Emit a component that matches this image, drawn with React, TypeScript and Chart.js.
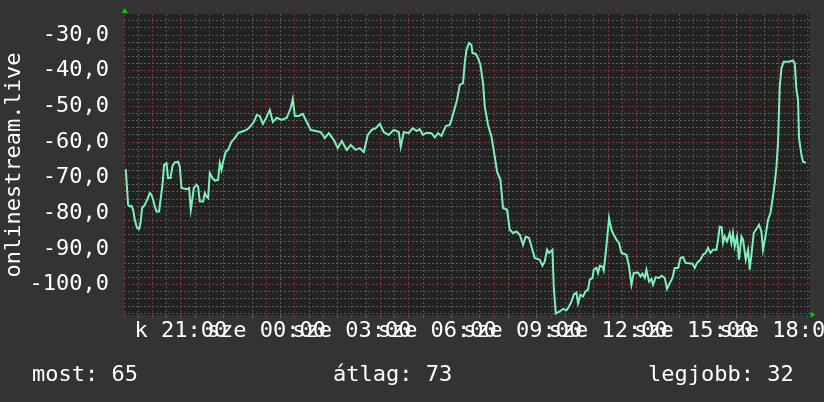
import React, { useEffect, useRef } from 'react';
import { Chart, registerables } from 'chart.js';

Chart.register(...registerables);

// Hours elapsed since Monday 19:00
const hours = [
  0.063, 0.109, 0.144, 0.204, 0.263, 0.320, 0.379, 0.460, 0.530, 0.579,
  0.636, 0.730, 0.811, 0.906, 0.966, 1.022, 1.081, 1.141, 1.232, 1.282,
  1.352, 1.408, 1.492, 1.548, 1.633, 1.703, 1.784, 1.900, 1.960, 2.019,
  2.195, 2.286, 2.346, 2.405, 2.451, 2.546, 2.602, 2.662, 2.778, 2.837,
  2.897, 2.953, 3.013, 3.107, 3.188, 3.304, 3.364, 3.423, 3.480, 3.574,
  3.655, 3.775, 3.890, 4.006, 4.125, 4.301,
  4.417, 4.558, 4.663, 4.769, 4.874, 4.979, 5.119, 5.225, 5.365, 5.541,
  5.716, 5.857, 5.927, 5.997, 6.137, 6.278, 6.418, 6.559, 6.734, 6.910,
  7.050, 7.191, 7.366, 7.507, 7.647, 7.823, 7.963, 8.139, 8.279, 8.420,
  8.560, 8.701, 8.841, 8.982, 9.122, 9.298, 9.473, 9.649, 9.719, 9.824,
  10.000, 10.140, 10.281,
  10.386, 10.502, 10.621, 10.797, 10.913, 11.029, 11.148, 11.299, 11.440, 11.499,
  11.615, 11.695, 11.790, 11.906, 11.966, 12.026, 12.117, 12.201, 12.236, 12.353,
  12.433, 12.518, 12.609, 12.669, 12.785, 12.904, 13.020, 13.101, 13.220, 13.311,
  13.452, 13.546, 13.662, 13.782, 13.898, 14.014, 14.108, 14.224, 14.309, 14.424,
  14.600, 14.695, 14.775, 14.856, 14.926, 15.046, 15.091, 15.162, 15.302, 15.418,
  15.537, 15.628, 15.713, 15.793, 15.888, 15.944, 16.028, 16.120, 16.204, 16.295,
  16.355, 16.450, 16.496, 16.591, 16.647, 16.707, 16.801, 16.847, 16.917, 16.963,
  17.033, 17.117, 17.198, 17.293, 17.384, 17.469, 17.644, 17.736, 17.820, 17.900,
  18.051, 18.136, 18.206, 18.287, 18.346, 18.438, 18.522, 18.578, 18.673, 18.789,
  18.873, 18.989, 19.069, 19.164, 19.259, 19.340, 19.456, 19.540, 19.631, 19.726,
  19.961, 20.042, 20.123, 20.242, 20.333, 20.428, 20.509, 20.593, 20.685, 20.804,
  20.860, 20.920, 20.990, 21.036, 21.096, 21.176, 21.271, 21.331, 21.387, 21.447,
  21.528, 21.598, 21.683, 21.739, 21.834, 21.915, 21.974, 22.034, 22.115, 22.230,
  22.300, 22.385, 22.441, 22.536, 22.617, 22.701, 22.771, 22.852, 22.912, 22.967,
  23.027, 23.087, 23.168, 23.319, 23.495, 23.554, 23.614, 23.670, 23.705, 23.790,
  23.846, 23.940,
];

// Rank values (plotted negated)
const ranks = [
  -67.6, -73.4, -77.6, -78.1, -77.9, -79.0, -81.8, -84.1, -84.4, -82.7,
  -78.5, -77.6, -76.2, -74.3, -74.8, -76.2, -78.1, -79.5, -79.5, -76.2,
  -72.0, -66.4, -65.9, -70.1, -70.1, -66.7, -65.7, -65.5, -66.9, -72.9,
  -73.2, -72.9, -79.0, -75.7, -72.9, -72.0, -72.5, -76.7, -76.7, -74.3,
  -75.3, -75.7, -68.7, -70.1, -70.8, -70.6, -65.9, -67.8, -65.5, -62.7,
  -62.2, -59.9, -58.9, -57.5, -57.1, -56.6,
  -55.8, -54.4, -52.4, -52.7, -54.9, -53.5, -51.0, -54.4, -53.2, -53.8,
  -53.2, -50.4, -47.9, -52.7, -52.7, -52.1, -54.4, -56.6, -56.9, -57.2,
  -58.9, -57.5, -59.4, -61.7, -59.7, -62.2, -60.8, -62.2, -61.7, -62.8,
  -58.0, -56.6, -56.1, -54.9, -57.2, -58.0, -56.6, -57.2, -61.4, -57.2,
  -57.5, -56.1, -56.9,
  -56.4, -58.0, -57.4, -57.5, -58.7, -57.5, -58.3, -55.5, -55.2, -53.8,
  -50.5, -48.2, -44.0, -43.5, -37.9, -34.2, -32.2, -32.8, -35.0, -35.3,
  -36.5, -38.4, -43.5, -50.1, -55.2, -58.5, -64.1, -68.3, -70.6, -78.5,
  -79.0, -84.6, -85.5, -85.1, -86.0, -88.8, -86.5, -86.9, -89.3, -92.5,
  -93.0, -94.7, -93.5, -90.2, -91.1, -90.2, -100.5, -108.1, -107.5, -106.8,
  -107.2, -106.1, -104.7, -102.8, -102.2, -105.2, -102.8, -103.3, -101.9, -101.4,
  -98.6, -98.1, -95.8, -95.3, -96.7, -94.7, -94.9, -96.0, -91.1, -87.4,
  -81.3, -84.6, -86.0, -87.4, -88.3, -91.1, -91.6, -94.9, -100.0, -96.7,
  -96.6, -97.7, -96.9, -98.1, -95.8, -99.1, -98.4, -100.0, -97.9, -98.1,
  -97.5, -98.1, -101.2, -99.6, -98.1, -95.3, -95.3, -92.5, -92.3, -93.9,
  -94.1, -95.3, -93.9, -93.0, -91.6, -91.1, -89.7, -91.1, -90.2, -90.2,
  -87.4, -83.7, -83.9, -88.2, -86.5, -87.9, -85.5, -88.3, -85.5, -89.3,
  -86.5, -93.0, -86.5, -87.4, -93.0, -90.2, -95.8, -91.6, -85.5, -84.1,
  -83.2, -85.1, -90.2, -86.0, -81.8, -79.9, -76.2, -71.5, -66.9, -60.3,
  -44.5, -39.3, -37.5, -37.5, -37.2, -37.9, -45.4, -48.2, -58.9, -63.6,
  -65.5, -65.8,
];

const xTickHours = [2, 5, 8, 11, 14, 17, 20, 23];
const xTickLabels = ['k 21:00', 'sze 00:00', 'sze 03:00', 'sze 06:00', 'sze 09:00', 'sze 12:00', 'sze 15:00', 'sze 18:00'];
const yAxisTitle = 'onlinestream.live';
const legendLabels = ['most', 'átlag', 'legjobb'];
const legendValues = [65, 73, 32];

const FONT = '"DejaVu Sans Mono", monospace';
const FONT_SIZE = 22;
const BG = '#333333';
const PLOT_BG = '#222222';
const GRID_MINOR = '#5c5c5c';
const GRID_MAJOR = '#7e3434';
const LINE = '#7ff0b8';
const ARROW = '#00cc00';
const TEXT = '#ffffff';

const decorPlugin = {
  id: 'decor',
  beforeDraw(chart: any) {
    const { ctx, chartArea: a, width, height } = chart;
    ctx.save();
    ctx.fillStyle = BG;
    ctx.fillRect(0, 0, width, height);
    ctx.fillStyle = PLOT_BG;
    ctx.fillRect(a.left, a.top, a.right - a.left, a.bottom - a.top);
    ctx.restore();
  },
  afterDraw(chart: any) {
    const { ctx, chartArea: a } = chart;
    ctx.save();
    // y-axis title
    ctx.fillStyle = TEXT;
    ctx.font = `${FONT_SIZE}px ${FONT}`;
    ctx.translate(20, (a.top + a.bottom) / 2 + 0.5);
    ctx.rotate(-Math.PI / 2);
    ctx.textAlign = 'center';
    ctx.textBaseline = 'alphabetic';
    ctx.fillText(yAxisTitle, 0, 0);
    ctx.restore();

    // legend line
    ctx.save();
    ctx.fillStyle = TEXT;
    ctx.font = `${FONT_SIZE}px ${FONT}`;
    ctx.textBaseline = 'alphabetic';
    const xs = [32, 333, 648];
    legendLabels.forEach((l, i) => {
      ctx.textAlign = 'left';
      ctx.fillText(`${l}: ${legendValues[i]}`, xs[i], 381);
    });
    ctx.restore();

    // axis arrows
    ctx.save();
    ctx.fillStyle = ARROW;
    const ax = a.left + 0.7;
    ctx.beginPath();
    ctx.moveTo(ax, a.top - 6);
    ctx.lineTo(ax - 3, a.top - 1);
    ctx.lineTo(ax + 3, a.top - 1);
    ctx.closePath();
    ctx.fill();
    const ay = a.bottom - 0.2;
    ctx.beginPath();
    ctx.moveTo(a.right + 5.5, ay);
    ctx.lineTo(a.right + 0.5, ay - 3);
    ctx.lineTo(a.right + 0.5, ay + 3);
    ctx.closePath();
    ctx.fill();
    ctx.restore();
  },
};

export default function App() {
  const ref = useRef<HTMLCanvasElement>(null);
  useEffect(() => {
    document.body.style.margin = '0';
    document.body.style.background = BG;
    const n = Math.min(hours.length, ranks.length);
    const points = [] as { x: number; y: number }[];
    for (let i = 0; i < n; i++) points.push({ x: hours[i], y: ranks[i] });

    const chart = new Chart(ref.current!, {
      type: 'line',
      data: {
        datasets: [
          {
            data: points,
            borderColor: LINE,
            borderWidth: 2,
            pointRadius: 0,
            tension: 0,
            fill: false,
          },
        ],
      },
      options: {
        responsive: false,
        animation: false,
        events: [],
        devicePixelRatio: 1,
        layout: { padding: { left: 0, top: 14, right: 14, bottom: 0 } },
        plugins: { legend: { display: false }, tooltip: { enabled: false } },
        scales: {
          x: {
            type: 'linear',
            min: 0,
            max: 24.09,
            afterFit: (s: any) => {
              s.height = 87;
              s.paddingLeft = 0;
              s.paddingRight = 0;
            },
            ticks: {
              stepSize: 0.5,
              maxTicksLimit: 1000,
              includeBounds: false,
              autoSkip: false,
              maxRotation: 0,
              minRotation: 0,
              padding: 0,
              color: TEXT,
              font: { family: FONT, size: FONT_SIZE },
              callback: (v: any) => {
                const i = xTickHours.indexOf(Number(v));
                return i >= 0 ? xTickLabels[i] : '';
              },
            },
            grid: {
              drawTicks: true,
              tickLength: 3,
              lineWidth: 1,
              color: (c: any) => (Number.isInteger(c.tick?.value) ? GRID_MAJOR : GRID_MINOR),
              tickColor: (c: any) => (Number.isInteger(c.tick?.value) ? GRID_MAJOR : GRID_MINOR),
            },
            border: { display: false, dash: [2, 2] },
          },
          y: {
            type: 'linear',
            min: -108.5,
            max: -24.1,
            afterFit: (s: any) => {
              s.width = 124;
              s.paddingTop = 0;
              s.paddingBottom = 0;
            },
            ticks: {
              stepSize: 2,
              maxTicksLimit: 1000,
              includeBounds: false,
              autoSkip: false,
              padding: 15,
              color: TEXT,
              font: { family: FONT, size: FONT_SIZE },
              callback: (v: any) => {
                const num = Number(v);
                return Math.round(num) % 10 === 0 ? num.toFixed(1).replace('.', ',') : '';
              },
            },
            grid: {
              drawTicks: false,
              lineWidth: 1,
              color: (c: any) => (Math.round(c.tick?.value ?? 1) % 10 === 0 ? GRID_MAJOR : GRID_MINOR),
            },
            border: { display: false, dash: [2, 2] },
          },
        },
      },
      plugins: [decorPlugin],
    } as any);
    return () => chart.destroy();
  }, []);
  return (
    <canvas
      ref={ref}
      width={824}
      height={402}
      style={{ display: 'block', width: 824, height: 402 }}
    />
  );
}
